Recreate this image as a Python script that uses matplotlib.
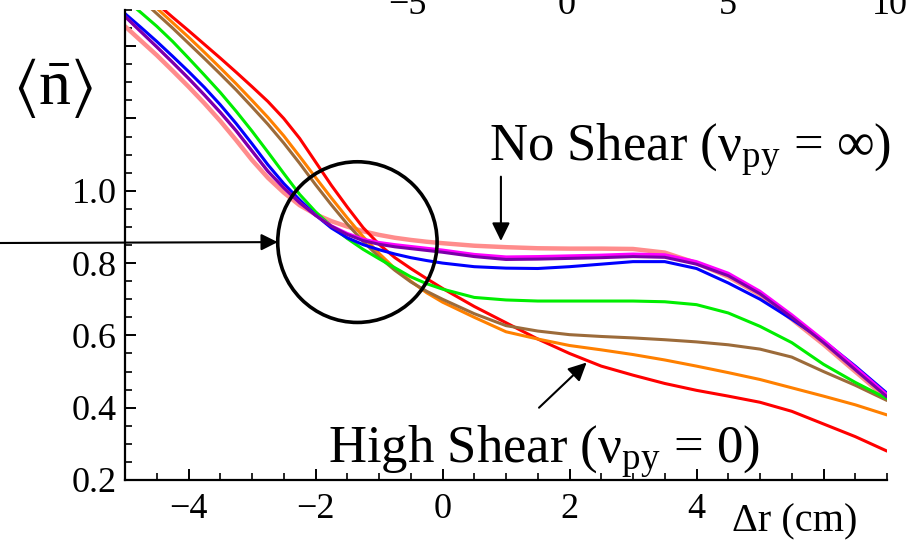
import numpy as np
import matplotlib
matplotlib.use('Agg')
import matplotlib.pyplot as plt
from matplotlib.patches import Ellipse
from matplotlib.ticker import MultipleLocator, FixedLocator, FuncFormatter

plt.rcParams['font.family'] = ['Liberation Serif', 'DejaVu Serif']
plt.rcParams['mathtext.fontset'] = 'custom'
plt.rcParams['mathtext.rm'] = 'Liberation Serif'
plt.rcParams['mathtext.it'] = 'Liberation Serif:italic'
plt.rcParams['mathtext.bf'] = 'Liberation Serif:bold'
plt.rcParams['mathtext.fallback'] = 'stix'
plt.rcParams['axes.unicode_minus'] = True

# ---- data ----
dr = [-5, -4.75, -4.5, -4.25, -4, -3.75, -3.5, -3.25, -3, -2.75, -2.5, -2.25,
      -2, -1.75, -1.5, -1.25, -1, -0.75, -0.5, -0.25, 0,
      0.5, 1, 1.5, 2, 2.5, 3, 3.5, 4, 4.5, 5, 5.5, 6, 6.5, 7]

n_red = [1.59, 1.555, 1.518, 1.48, 1.443, 1.405, 1.367, 1.328, 1.288, 1.247, 1.20, 1.145,
         1.08, 1.015, 0.955, 0.898, 0.852, 0.815, 0.785, 0.757, 0.73,
         0.68, 0.635, 0.59, 0.55, 0.515, 0.49, 0.467, 0.448, 0.432, 0.415, 0.39, 0.355, 0.32, 0.28]
n_orange = [1.585, 1.545, 1.505, 1.465, 1.425, 1.383, 1.34, 1.296, 1.25, 1.203, 1.152, 1.095,
            1.037, 0.98, 0.925, 0.873, 0.827, 0.785, 0.75, 0.718, 0.692,
            0.65, 0.61, 0.59, 0.572, 0.56, 0.547, 0.532, 0.515, 0.497, 0.478, 0.455, 0.432, 0.408, 0.38]
n_brown = [1.57, 1.53, 1.49, 1.45, 1.408, 1.366, 1.323, 1.279, 1.232, 1.184, 1.132, 1.076,
           1.017, 0.961, 0.908, 0.86, 0.817, 0.78, 0.748, 0.722, 0.70,
           0.66, 0.627, 0.612, 0.602, 0.597, 0.593, 0.588, 0.582, 0.574, 0.562, 0.54, 0.50, 0.462, 0.42]
n_green = [1.53, 1.493, 1.455, 1.413, 1.367, 1.32, 1.272, 1.22, 1.165, 1.107, 1.048, 0.99,
           0.942, 0.902, 0.868, 0.838, 0.812, 0.787, 0.762, 0.743, 0.728,
           0.705, 0.698, 0.695, 0.695, 0.695, 0.695, 0.693, 0.685, 0.662, 0.625, 0.58, 0.52, 0.47, 0.425]
n_blue = [1.49, 1.452, 1.413, 1.372, 1.33, 1.286, 1.238, 1.186, 1.13, 1.072, 1.02, 0.975,
          0.933, 0.897, 0.87, 0.851, 0.837, 0.825, 0.815, 0.807, 0.80,
          0.79, 0.786, 0.785, 0.79, 0.797, 0.804, 0.804, 0.785, 0.745, 0.70, 0.645, 0.585, 0.515, 0.44]
n_purple = [1.482, 1.44, 1.398, 1.355, 1.311, 1.265, 1.217, 1.166, 1.11, 1.054, 1.008, 0.967,
            0.932, 0.902, 0.879, 0.862, 0.852, 0.845, 0.84, 0.835, 0.83,
            0.818, 0.81, 0.811, 0.813, 0.815, 0.818, 0.816, 0.797, 0.765, 0.715, 0.65, 0.58, 0.505, 0.43]
n_magenta = [1.482, 1.44, 1.398, 1.355, 1.311, 1.265, 1.217, 1.166, 1.11, 1.054, 1.008, 0.967,
             0.932, 0.903, 0.882, 0.866, 0.857, 0.851, 0.846, 0.841, 0.836,
             0.824, 0.817, 0.818, 0.82, 0.822, 0.825, 0.823, 0.804, 0.772, 0.722, 0.657, 0.587, 0.512, 0.436]
n_pink = [1.455, 1.415, 1.375, 1.332, 1.288, 1.242, 1.193, 1.14, 1.085, 1.036, 0.995, 0.96,
          0.935, 0.916, 0.901, 0.888, 0.878, 0.87, 0.864, 0.859, 0.855,
          0.848, 0.844, 0.841, 0.84, 0.84, 0.839, 0.829, 0.80, 0.762, 0.712, 0.645, 0.575, 0.50, 0.425]

series = [
    (n_pink, '#ff8c8c', 3.2),
    (n_red, '#ff0000', 2.2),
    (n_orange, '#ff8000', 2.2),
    (n_brown, '#9c6b3a', 2.2),
    (n_green, '#00ee00', 2.2),
    (n_blue, '#0000ff', 2.2),
    (n_magenta, '#ff00ff', 2.2),
    (n_purple, '#7a00a8', 2.2),
]

x_major = [-4, -2, 0, 2, 4, 6]
x_labeled = [-4, -2, 0, 2, 4]
y_major = [0.2, 0.4, 0.6, 0.8, 1.0, 1.2, 1.4]
y_labeled_max = 1.0
top_labels = ['−5', '0', '5', '10']

W, H = 906, 543
fig = plt.figure(figsize=(W / 100, H / 100), dpi=100)
ax = fig.add_axes([125 / W, 1 - 480 / H, 762 / W, 470 / H])

for vals, col, lw in series:
    ax.plot(dr, vals, color=col, lw=lw, solid_capstyle='round', solid_joinstyle='round')

ax.set_xlim(-5, 7)
ax.set_ylim(0.2, 1.5)
for s in ['top', 'right']:
    ax.spines[s].set_visible(False)
for s in ['left', 'bottom']:
    ax.spines[s].set_linewidth(1.6)

ax.xaxis.set_major_locator(FixedLocator(x_major))
ax.xaxis.set_minor_locator(MultipleLocator(0.5))
ax.xaxis.set_major_formatter(FuncFormatter(
    lambda v, p: ('%d' % v).replace('-', '−') if round(v) in x_labeled else ''))
ax.yaxis.set_major_locator(FixedLocator(y_major))
ax.yaxis.set_minor_locator(MultipleLocator(0.05))
ax.yaxis.set_major_formatter(FuncFormatter(
    lambda v, p: '%.1f' % v if v <= y_labeled_max + 1e-9 else ''))
ax.tick_params(which='major', direction='in', length=8, width=1.4, labelsize=26, pad=6)
ax.tick_params(which='minor', direction='in', length=5, width=1.2)
ax.tick_params(axis='x', which='major', pad=9)

# circle
cx, cy = -1.34, 0.858
ax.add_patch(Ellipse((cx, cy), width=2 * 80 / 63.75, height=2 * 80 / 360,
                     fill=False, ec='black', lw=2.6, clip_on=False, zorder=5))

# horizontal arrow from the left edge to the circle
ax.annotate('', xy=(cx - 80 / 63.75, cy), xycoords='data',
            xytext=(0, 1 - 243 / H), textcoords='figure fraction',
            arrowprops=dict(arrowstyle='-|>,head_length=0.5,head_width=0.25',
                            color='black', lw=1.5, mutation_scale=20,
                            shrinkA=0, shrinkB=0), annotation_clip=False)

# No shear arrow
ax.annotate('', xy=(0.92, 0.861), xytext=(0.92, 1.039),
            arrowprops=dict(arrowstyle='-|>,head_length=0.55,head_width=0.27',
                            color='black', lw=1.5, mutation_scale=20,
                            shrinkA=0, shrinkB=0))
# High shear arrow
ax.annotate('', xy=(2.27, 0.525), xytext=(1.52, 0.40),
            arrowprops=dict(arrowstyle='-|>,head_length=0.55,head_width=0.27',
                            color='black', lw=1.5, mutation_scale=20,
                            shrinkA=0, shrinkB=0))

ax.text(0.73, 1.083, r'No Shear ($\mathrm{ν}_{\mathrm{py}}$ = ∞)',
        fontsize=38, ha='left', va='baseline')
ax.text(-1.81, 0.247, r'High Shear ($\mathrm{ν}_{\mathrm{py}}$ = 0)',
        fontsize=38, ha='left', va='baseline')

fig.text(795 / W, 1 - 522 / H, 'Δr (cm)', fontsize=29, ha='center', va='center')
fig.text(53 / W, 1 - 88 / H, r'$\langle\bar{\mathrm{n}}\rangle$', fontsize=46,
         ha='center', va='center')

for lbl, px in zip(top_labels, [407, 567, 728, 890]):
    fig.text(px / W, 1 - 14 / H, lbl, fontsize=26, ha='center', va='baseline')

fig.savefig('out.png', dpi=100, facecolor='white')
